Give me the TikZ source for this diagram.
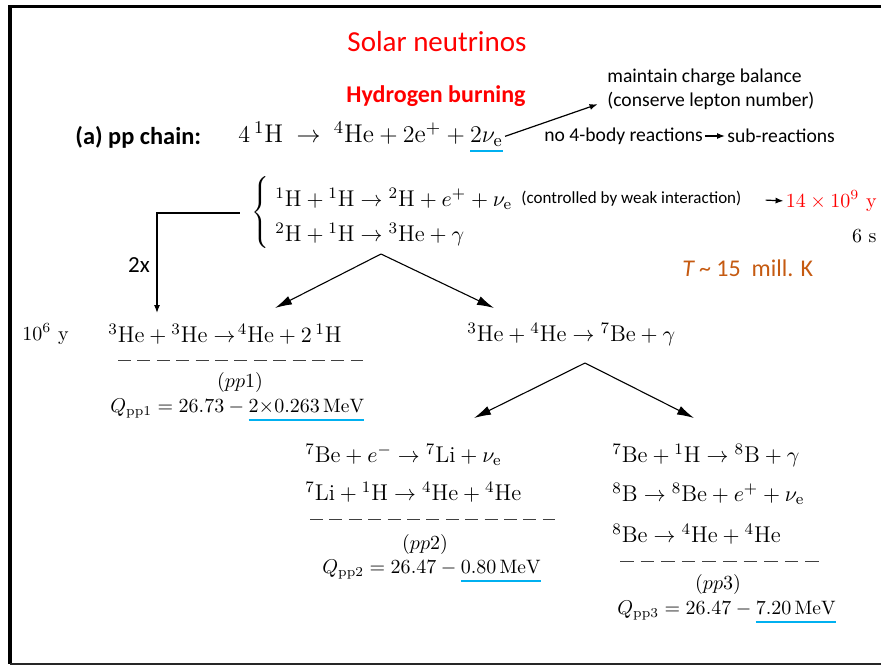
\documentclass[tikz,border=0pt]{standalone}
\usepackage{fontspec}
\usepackage{xcolor}
\usepackage{tikz}
\usetikzlibrary{arrows.meta}
\newfontfamily\calibri{Carlito}
\definecolor{solarred}{HTML}{FF0000}
\definecolor{solarblue}{HTML}{00B0F0}
\definecolor{solarorange}{HTML}{C55A11}
\newcommand\bluebar[1]{\setbox0\hbox{$#1$}\rlap{\color{solarblue}\rule[-4.5pt]{\wd0}{1pt}}\box0}

\begin{document}
\begin{tikzpicture}[
  x=0.5pt, y=-0.5pt,
  every node/.style={inner sep=0pt},
  note/.style={font=\calibri\fontsize{9.8}{11.5}\selectfont, anchor=west},
  small/.style={font=\calibri\fontsize{8.5}{10}\selectfont, anchor=west},
  eqn/.style={font=\fontsize{11.4}{13.5}\selectfont, anchor=west},
  qline/.style={anchor=west, font=\fontsize{9.7}{11.5}\selectfont},
  chainarrow/.style={-{Latex[length=8.5pt, width=4.6pt]}, line width=0.55pt},
  smallarrow/.style={-{Latex[length=4pt, width=3pt]}, line width=0.6pt},
  dashline/.style={dash pattern=on 6.5pt off 3.2pt, line width=0.45pt, draw=black!75}
]
\useasboundingbox (0,0) rectangle (881,665);
\draw[line width=1.6pt] (881,6.5) -- (10,6.5) -- (10,663.5);
\draw[line width=1pt, black!85] (9.5,663.5) -- (881,663.5);

\node[font=\calibri\fontsize{14.5}{17}\selectfont, text=solarred] (title) at (437,42) {Solar neutrinos};
\node[font=\calibri\bfseries\fontsize{12}{14}\selectfont, text=solarred] (burning) at (436,96) {Hydrogen burning};
\node[font=\calibri\bfseries\fontsize{12.2}{14}\selectfont, anchor=west] (chainlbl) at (75,137) {(a) pp chain:};
\node[anchor=west, font=\fontsize{12.8}{15}\selectfont] (overall) at (238,137)
  {$4\,{}^1\mathrm{H}\;\rightarrow\;{}^4\mathrm{He}+2\mathrm{e}^+ + \bluebar{2\nu_{\mathrm{e}}}$};
\node[note] (charge1) at (607,77) {maintain charge balance};
\node[note] (charge2) at (607,101) {(conserve lepton number)};
\draw[smallarrow, shorten >=5pt, shorten <=1pt] (overall.east) -- (charge2.west);
\node[note] (nobody) at (544,136) {no 4-body reactions};
\node[note] (subreac) at (727,136) {sub-reactions};
\draw[smallarrow, shorten <=1pt, shorten >=1pt] (nobody) -- (subreac);

\node (brace) at (262,213) {$\left\{\vrule height 16.5pt depth 16.5pt width 0pt\right.$};
\node[eqn] (ppA) at (275,199) {${}^1\mathrm{H} + {}^1\mathrm{H} \rightarrow {}^2\mathrm{H} + e^+ + \nu_{\mathrm{e}}$};
\node[eqn] (ppB) at (275,234) {${}^2\mathrm{H} + {}^1\mathrm{H} \rightarrow {}^3\mathrm{He} + \gamma$};
\node[small] (weak) at (521,199) {(controlled by weak interaction)};
\node[anchor=east, text=solarred] (tweak) at (877,201) {$14\times10^9~\mathrm{y}$};
\node[anchor=east] (tstrong) at (877,236) {$6~\mathrm{s}$};
\draw[smallarrow, shorten <=12pt, shorten >=1pt] (weak.east) -- (tweak.west);
\node[font=\calibri\fontsize{12}{14}\selectfont, text=solarorange, anchor=west] (temp) at (682,268)
  {\textit{T}\,\textasciitilde\ 15\ \ mill. K};

\node[font=\calibri\fontsize{11.5}{13}\selectfont] (twice) at (139,265) {2x};
\coordinate (feed) at (157,313);
\draw[smallarrow, shorten <=6pt] (brace.west) -| (feed);

\coordinate (fork1) at (381,254);
\coordinate (fork1l) at (275,308);
\coordinate (fork1r) at (494,308);
\draw[chainarrow] (fork1) -- (fork1l);
\draw[chainarrow] (fork1) -- (fork1r);

\node[anchor=west] (tpp1) at (22,334) {$10^6~\mathrm{y}$};
\node[eqn] (pp1eq) at (108,334) {${}^3\mathrm{He} + {}^3\mathrm{He} \rightarrow\!{}^4\mathrm{He} + 2\,{}^1\mathrm{H}$};
\draw[dashline] (118,360) -- (363,360);
\node (pp1name) at (240,382) {$(pp1)$};
\node[qline] (pp1q) at (110,410) {$Q_{\mathrm{pp1}} = 26.73 - \bluebar{2{\times}0.263\,\mathrm{MeV}}$};

\node[eqn] (ppBe) at (467,334) {${}^3\mathrm{He} + {}^4\mathrm{He} \rightarrow {}^7\mathrm{Be} + \gamma$};
\coordinate (fork2) at (585,363);
\coordinate (fork2l) at (474,418);
\coordinate (fork2r) at (694,418);
\draw[chainarrow] (fork2) -- (fork2l);
\draw[chainarrow] (fork2) -- (fork2r);

\node[eqn] (pp2a) at (305,455) {${}^7\mathrm{Be} + e^- \rightarrow {}^7\mathrm{Li} + \nu_{\mathrm{e}}$};
\node[eqn] (pp2b) at (305,492) {${}^7\mathrm{Li} + {}^1\mathrm{H} \rightarrow {}^4\mathrm{He} + {}^4\mathrm{He}$};
\draw[dashline] (310,519) -- (555,519);
\node (pp2name) at (425,544) {$(pp2)$};
\node[qline] (pp2q) at (322,571) {$Q_{\mathrm{pp2}} = 26.47 - \bluebar{0.80\,\mathrm{MeV}}$};

\node[eqn] (pp3a) at (612,455) {${}^7\mathrm{Be} + {}^1\mathrm{H} \rightarrow {}^8\mathrm{B} + \gamma$};
\node[eqn] (pp3b) at (612,494) {${}^8\mathrm{B} \rightarrow {}^8\mathrm{Be} + e^+ + \nu_{\mathrm{e}}$};
\node[eqn] (pp3c) at (612,534) {${}^8\mathrm{Be} \rightarrow {}^4\mathrm{He} + {}^4\mathrm{He}$};
\draw[dashline, dash pattern=on 6.8pt off 3.5pt] (620,561) -- (819,561);
\node (pp3name) at (718,584) {$(pp3)$};
\node[qline] (pp3q) at (617,612) {$Q_{\mathrm{pp3}} = 26.47 - \bluebar{7.20\,\mathrm{MeV}}$};
\end{tikzpicture}
\end{document}
